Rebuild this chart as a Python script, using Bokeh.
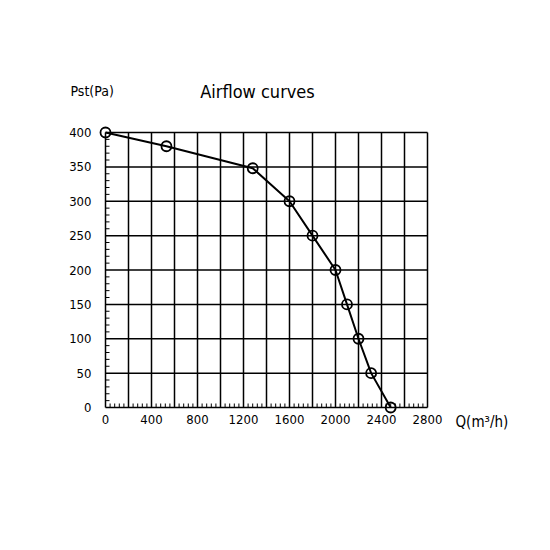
from bokeh.plotting import figure
from bokeh.models import Range1d
from bokeh.core.properties import value
from bokeh.embed import file_html
from bokeh.resources import INLINE

# ---- data ----
flow = [0, 530, 1280, 1600, 1800, 2000, 2100, 2200, 2310, 2480]
pressure = [400, 380, 348, 300, 250, 200, 150, 100, 50, 0]

x_tick_labels = [0, 400, 800, 1200, 1600, 2000, 2400, 2800]
y_tick_labels = [0, 50, 100, 150, 200, 250, 300, 350, 400]

title_text = "Airflow curves"
y_label = "Pst(Pa)"
x_label = "Q(m³/h)"

# ---- layout (pixels) ----
W = H = 534
FL, FT, FR, FB = 105, 132, 427, 407          # chart frame in canvas pixels
X0, X1, Y0, Y1 = 0, 2800, 0, 400
sx = (FR - FL) / (X1 - X0)                   # px per data unit
sy = (FB - FT) / (Y1 - Y0)
x_start = X0 - FL / sx
x_end = X0 + (W - FL) / sx
y_start = Y0 - (H - FB) / sy
y_end = Y0 + FB / sy

FONT = "DejaVu Sans Condensed"

p = figure(width=W, height=H, output_backend="svg", toolbar_location=None,
           x_range=Range1d(x_start, x_end), y_range=Range1d(y_start, y_end),
           min_border=0)
p.axis.visible = False
p.grid.visible = False
p.outline_line_color = None
p.background_fill_color = "white"
p.border_fill_color = "white"

# ---- grid (every 200 in x, every 50 in y) ----
gx = list(range(X0, X1 + 1, 200))
gy = list(range(Y0, Y1 + 1, 50))
p.segment(x0=gx, y0=[Y0] * len(gx), x1=gx, y1=[Y1] * len(gx),
          line_color="black", line_width=1.5)
p.segment(x0=[X0] * len(gy), y0=gy, x1=[X1] * len(gy), y1=gy,
          line_color="black", line_width=1.5)

# ---- minor ticks (inside) ----
tick_len = 4
mx = [v for v in range(X0, X1 + 1, 40) if v % 200]
my = [v for v in range(Y0, Y1 + 1, 10) if v % 50]
p.segment(x0=mx, y0=[Y0] * len(mx), x1=mx, y1=[Y0 + tick_len / sy] * len(mx),
          line_color="black", line_width=1)
p.segment(x0=[X0] * len(my), y0=my, x1=[X0 + tick_len / sx] * len(my), y1=my,
          line_color="black", line_width=1)

# ---- tick labels ----
p.text(x=x_tick_labels, y=[Y0] * len(x_tick_labels),
       text=[str(v) for v in x_tick_labels], text_align="center",
       text_baseline="middle", y_offset=12, text_font=value(FONT),
       text_font_size="13px", text_color="black")
p.text(x=[X0] * len(y_tick_labels), y=y_tick_labels,
       text=[str(v) for v in y_tick_labels], text_align="right",
       text_baseline="middle", x_offset=-14, text_font=value(FONT),
       text_font_size="13px", text_color="black")

# ---- curve ----
p.line(flow, pressure, line_color="black", line_width=2)
p.scatter(flow, pressure, size=10, marker="circle", fill_color=None,
          line_color="black", line_width=1.8)

# ---- titles ----
p.text(x=[(257 - FL) / sx], y=[(FB - 91) / sy], text=[title_text],
       text_align="center", text_baseline="middle", text_font=value(FONT),
       text_font_size="18px", text_color="black")
p.text(x=[(70 - FL) / sx], y=[(FB - 90) / sy], text=[y_label],
       text_align="left", text_baseline="middle", text_font=value(FONT),
       text_font_size="14px", text_color="black")
p.text(x=[(455 - FL) / sx], y=[(FB - 421) / sy], text=[x_label],
       text_align="left", text_baseline="middle", text_font=value(FONT),
       text_font_size="15px", text_color="black")

open("out.html", "w").write(file_html(p, INLINE))
